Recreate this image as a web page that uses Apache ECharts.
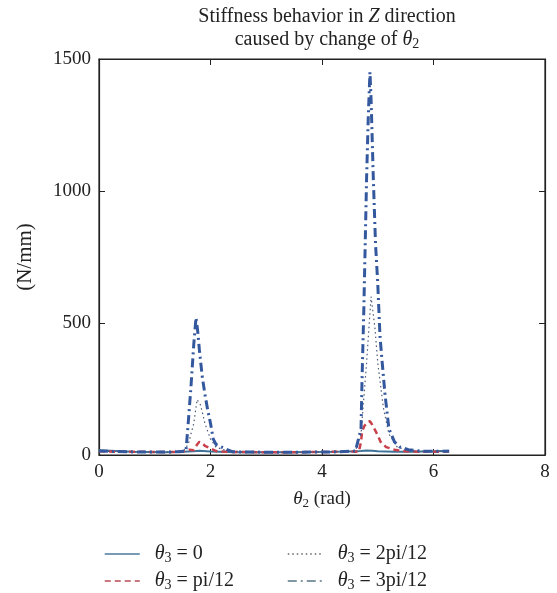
<!DOCTYPE html>
<html>
<head>
<meta charset="utf-8">
<script src="https://cdn.jsdelivr.net/npm/echarts@6/dist/echarts.min.js"></script>
<style>html,body{margin:0;padding:0;background:#fff}#c{width:557px;height:593px}</style>
</head>
<body>
<div id="c"></div>
<script>
// theta3 = 0 (solid)
const x0 = [0, 0.3, 0.6, 0.9, 1.2, 1.5, 1.7, 1.8, 2.0, 2.3, 2.6, 3.0, 3.4, 3.8, 4.2, 4.5, 4.7, 4.8, 4.9, 5.0, 5.3, 5.6, 6.0, 6.28];
const k0 = [18, 15, 12, 11, 10, 12, 14, 16, 13, 11, 10, 10, 10, 11, 12, 13, 15, 17, 16, 14, 12, 12, 14, 16];
// theta3 = pi/12 (dashed)
const x1 = [0, 0.4, 0.8, 1.2, 1.5, 1.62, 1.7, 1.76, 1.8, 1.85, 1.9, 2.0, 2.1, 2.3, 2.7, 3.2, 3.7, 4.2, 4.5, 4.66, 4.7, 4.72, 4.76, 4.82, 4.86, 4.9, 4.95, 5.0, 5.05, 5.15, 5.3, 5.5, 5.8, 6.28];
const k1 = [14, 12, 12, 11, 12, 20, 18, 40, 50, 45, 35, 25, 15, 12, 11, 10, 11, 12, 13, 12, 50, 90, 110, 125, 128, 115, 95, 75, 50, 30, 20, 14, 12, 13];
// theta3 = 2pi/12 (dotted)
const x2 = [0, 0.5, 1.0, 1.5, 1.6, 1.7, 1.76, 1.82, 1.9, 2.0, 2.1, 2.3, 2.8, 3.4, 4.0, 4.6, 4.7, 4.8, 4.88, 4.95, 5.0, 5.1, 5.2, 5.35, 5.6, 6.0, 6.28];
const k2 = [14, 12, 11, 12, 40, 120, 210, 190, 120, 60, 30, 15, 11, 10, 11, 15, 80, 350, 600, 480, 350, 180, 80, 30, 15, 12, 13];
// theta3 = 3pi/12 (dash-dot)
const x3 = [0, 0.5, 1.0, 1.4, 1.56, 1.6, 1.65, 1.7, 1.74, 1.77, 1.8, 1.85, 1.9, 1.95, 2.0, 2.05, 2.1, 2.2, 2.3, 2.4, 2.8, 3.3, 3.8, 4.3, 4.6, 4.7, 4.72, 4.75, 4.78, 4.8, 4.83, 4.86, 4.88, 4.9, 4.92, 4.96, 5.0, 5.04, 5.08, 5.13, 5.2, 5.3, 5.4, 5.55, 5.8, 6.28];
const k3 = [15, 12, 11, 12, 15, 120, 260, 420, 520, 470, 400, 300, 230, 170, 120, 60, 40, 30, 20, 12, 11, 10, 11, 12, 15, 100, 300, 550, 850, 1050, 1280, 1450, 1350, 1200, 1050, 800, 650, 450, 350, 230, 100, 50, 30, 20, 14, 14];

const xTicks = [0, 2, 4, 6, 8];
const yTicks = [0, 500, 1000, 1500];

const zip = (xs, ys) => xs.map((v, i) => [v, ys[i]]);
const serif = 'Liberation Serif';
const ink = '#222';

const labels = {
  t0: '{i|θ}{s|3} = 0',
  t1: '{i|θ}{s|3} = pi/12',
  t2: '{i|θ}{s|3} = 2pi/12',
  t3: '{i|θ}{s|3} = 3pi/12'
};
const rich = {
  i: { fontFamily: serif, fontStyle: 'italic', fontSize: 20, color: ink },
  s: { fontFamily: serif, fontSize: 14, color: ink, verticalAlign: 'bottom', padding: [9, 0, 0, 0] }
};
const richAx = {
  i: { fontFamily: serif, fontStyle: 'italic', fontSize: 19, color: ink },
  s: { fontFamily: serif, fontSize: 13, color: ink, verticalAlign: 'bottom', padding: [9, 0, 0, 0] }
};
function legendAt(name, left, top, color) {
  return {
    data: [name], left: left, top: top, orient: 'horizontal',
    itemWidth: 35, itemHeight: 12, itemGap: 0,
    itemStyle: { opacity: 0 },
    lineStyle: { width: 1.5, color: color },
    formatter: n => labels[n],
    textStyle: { fontFamily: serif, fontSize: 20, color: ink, padding: [0, 0, 0, 10], rich: rich }
  };
}
const tick = { show: true, inside: true, length: 6, lineStyle: { color: ink, width: 1 } };
const axLine = { show: true, onZero: false, lineStyle: { color: ink, width: 1.2 } };

const chart = echarts.init(document.getElementById('c'), null, { renderer: 'canvas' });
chart.setOption({
  animation: false,
  backgroundColor: '#fff',
  title: {
    text: 'Stiffness behavior in {it|Z} direction\ncaused by change of {it|θ}{sb|2}',
    left: 322, top: 0, textAlign: 'center',
    textStyle: {
      fontFamily: serif, fontSize: 20, fontWeight: 'normal', color: ink, lineHeight: 23,
      rich: {
        it: { fontFamily: serif, fontSize: 20, fontStyle: 'italic', color: ink, lineHeight: 23 },
        sb: { fontFamily: serif, fontSize: 14, color: ink, verticalAlign: 'bottom', padding: [9, 0, 0, 0], lineHeight: 23 }
      }
    }
  },
  legend: [
    legendAt('t0', 99, 539, '#4a7a9c'),
    legendAt('t1', 99, 566, '#b84a55'),
    legendAt('t2', 282, 539, '#666'),
    legendAt('t3', 282, 566, '#5a7686')
  ],
  grid: { left: 99, right: 12, top: 59, bottom: 138, show: true, borderColor: ink, borderWidth: 1.2 },
  xAxis: [{
    type: 'value', min: 0, max: 8, interval: 2,
    name: '{i|θ}{s|2} (rad)', nameLocation: 'middle', nameGap: 33,
    nameTextStyle: { fontFamily: serif, fontSize: 19, color: ink, rich: richAx },
    axisLine: axLine, axisTick: tick,
    axisLabel: { fontFamily: serif, fontSize: 19, color: ink, margin: 8, formatter: v => String(v) },
    splitLine: { show: false }
  }, {
    type: 'value', min: 0, max: 8, interval: 2, position: 'top',
    axisLine: axLine, axisTick: tick,
    axisLabel: { show: false }, splitLine: { show: false }
  }],
  yAxis: [{
    type: 'value', min: 0, max: 1500, interval: 500,
    name: '(N/mm)', nameLocation: 'middle', nameGap: 63,
    nameTextStyle: { fontFamily: serif, fontSize: 21, color: ink },
    axisLine: axLine, axisTick: tick,
    axisLabel: { fontFamily: serif, fontSize: 19, color: ink, margin: 8, formatter: v => String(v) },
    splitLine: { show: false }
  }, {
    type: 'value', min: 0, max: 1500, interval: 500, position: 'right',
    axisLine: axLine, axisTick: tick,
    axisLabel: { show: false }, splitLine: { show: false }
  }],
  series: [
    { name: 't0', type: 'line', data: zip(x0, k0), showSymbol: false, symbol: 'none',
      lineStyle: { color: '#3f7298', width: 2, type: 'solid' }, itemStyle: { color: '#3f7298' } },
    { name: 't1', type: 'line', data: zip(x1, k1), showSymbol: false, symbol: 'none',
      lineStyle: { color: '#c8414b', width: 2.5, type: [6, 4] }, itemStyle: { color: '#c8414b' } },
    { name: 't2', type: 'line', data: zip(x2, k2), showSymbol: false, symbol: 'none',
      lineStyle: { color: '#4a5a78', width: 1.2, type: [1.5, 3] }, itemStyle: { color: '#4a5a78' } },
    { name: 't3', type: 'line', data: zip(x3, k3), showSymbol: false, symbol: 'none',
      lineStyle: { color: '#34589e', width: 3, type: [9, 4, 2, 4] }, itemStyle: { color: '#34589e' } }
  ]
});
</script>
</body>
</html>
